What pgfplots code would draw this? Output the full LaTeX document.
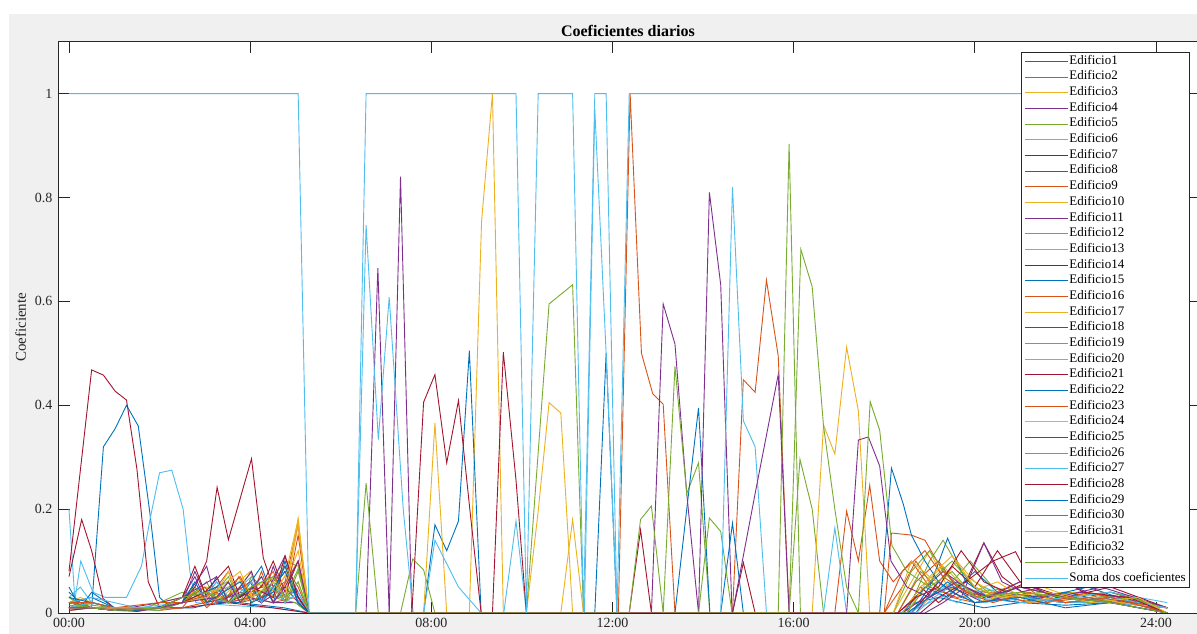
\documentclass[border=0pt]{standalone}
\usepackage{fontspec}
\setmainfont{Liberation Serif}
\usepackage{pgfplots}
\pgfplotsset{compat=1.18}
\definecolor{ca}{HTML}{0072BD}
\definecolor{cb}{HTML}{D95319}
\definecolor{cc}{HTML}{EDB120}
\definecolor{cd}{HTML}{7E2F8E}
\definecolor{ce}{HTML}{77AC30}
\definecolor{cf}{HTML}{4DBEEE}
\definecolor{cg}{HTML}{A2142F}
\definecolor{figbg}{HTML}{F0F0F0}
\definecolor{axc}{HTML}{262626}
\begin{document}
\begin{tikzpicture}[x=1pt,y=1pt]
\useasboundingbox (0,0) rectangle (1197,634);
\fill[white] (0,0) rectangle (1197,634);
\fill[figbg] (9,0) rectangle (1197,620);
\begin{axis}[
  at={(58.8pt,21pt)}, anchor=south west,
  scale only axis, width=1138.2pt, height=571.3pt,
  xmin=-0.225, xmax=24.906, ymin=0, ymax=1.1,
  axis background/.style={fill=white},
  axis line style={axc, line width=0.6pt},
  every tick/.style={axc, line width=0.6pt},
  major tick length=11pt,
  xtick={0,4,8,12,16,20,24},
  xticklabels={00:00,04:00,08:00,12:00,16:00,20:00,24:00},
  ytick={0,0.2,0.4,0.6,0.8,1},
  yticklabels={0,0.2,0.4,0.6,0.8,1},
  tick label style={font=\fontsize{14}{16}\selectfont, text=axc},
  xticklabel style={yshift=-2pt},
  yticklabel style={xshift=-3pt},
  title={\textbf{Coeficientes diarios}},
  title style={font=\fontsize{16}{18}\selectfont, yshift=-4pt},
  ylabel={Coeficiente},
  ylabel style={font=\fontsize{15}{17}\selectfont, text=axc, at={(axis description cs:-0.0334,0.5)}, anchor=center},
  every axis plot/.append style={line width=0.9pt, mark=none},
  legend style={at={(0.99385,0.98197)}, anchor=north east, draw=axc, line width=0.6pt, fill=white,
    font=\fontsize{13}{14}\selectfont, row sep=0.67pt, inner xsep=3pt, inner ysep=1.5pt,
    nodes={inner sep=1pt, text height=9.5pt, text depth=3.5pt}},
  legend cell align=left,
  legend image code/.code={\draw[#1] (-3pt,0pt) -- (40pt,0pt);},
]
% Edificio1
\addplot[ca] coordinates {(0,0.04)(0.25,0.02)(0.5,0.01)(0.76,0.32)(1.02,0.355)(1.27,0.4)(1.53,0.36)(1.79,0.19)(2.0,0.03)(2.25,0.01)(2.75,0.01)(3.25,0.02)(3.75,0.02)(4.25,0.015)(4.75,0.01)(5.3,0)(18.4,0)(18.7,0.02)(19.2,0.03)(19.7,0.02)(20.2,0.01)(21,0.02)(22,0.015)(23,0.02)(24.25,0.01)};
% Edificio2
\addplot[cb] coordinates {(0,0.03)(0.25,0.02)(0.5,0.01)(1,0.005)(1.5,0.003)(2,0.01)(2.5,0.02)(2.75,0.04)(3.0,0.02)(3.5,0.03)(3.75,0.07)(4.0,0.03)(4.5,0.02)(5.0,0.03)(5.3,0)(12.13,0)(12.39,1.0)(12.64,0.5)(12.89,0.422)(13.12,0.402)(13.38,0)(18.0,0)(18.4,0.05)(18.7,0.1)(19.0,0.06)(19.5,0.03)(20,0.02)(21,0.03)(22,0.02)(23,0.03)(24.25,0.01)};
% Edificio3
\addplot[cc] coordinates {(0,0.02)(0.25,0.03)(0.5,0.02)(1,0.01)(1.5,0.005)(2,0.02)(2.5,0.03)(3,0.05)(3.25,0.02)(3.5,0.04)(4.0,0.08)(4.25,0.03)(4.75,0.05)(5.06,0.12)(5.3,0)(8.84,0)(9.11,0.754)(9.35,1.0)(9.59,0)(18.2,0)(18.6,0.06)(19,0.12)(19.4,0.05)(20,0.03)(20.5,0.04)(21.5,0.02)(22.5,0.03)(23.5,0.02)(24.25,0)};
% Edificio4
\addplot[cd] coordinates {(0,0.01)(0.5,0.02)(1,0.01)(1.5,0.003)(2,0.01)(2.5,0.02)(2.78,0.08)(3.04,0.03)(3.5,0.02)(4,0.03)(4.5,0.02)(5,0.02)(5.3,0)(6.56,0)(6.82,0.664)(7.07,0)(18.3,0)(18.8,0.04)(19.3,0.08)(19.8,0.05)(20.3,0.03)(21,0.05)(22,0.03)(23,0.04)(24.25,0.01)};
% Edificio5
\addplot[ce] coordinates {(0,0.03)(0.25,0.015)(0.5,0.01)(1,0.005)(1.5,0.005)(2,0.02)(2.5,0.04)(3.0,0.03)(3.26,0.06)(3.5,0.03)(4.25,0.04)(4.77,0.1)(5.06,0.09)(5.3,0)(6.33,0)(6.56,0.25)(6.83,0)(7.32,0)(7.59,0.104)(7.83,0.083)(8.08,0)(15.9,0)(16.14,0.296)(16.41,0.2)(16.66,0)(18.5,0)(19,0.1)(19.3,0.14)(19.7,0.08)(20.3,0.04)(21,0.03)(22,0.04)(23,0.03)(24.25,0.01)};
% Edificio6
\addplot[cf] coordinates {(0,0.2)(0.13,0.025)(0.26,0.1)(0.53,0.04)(0.8,0.03)(1.27,0.03)(1.6,0.09)(1.8,0.185)(2.0,0.27)(2.27,0.275)(2.52,0.2)(2.67,0.08)(2.8,0.02)(3.5,0.015)(4.5,0.01)(5.3,0)(18.5,0)(19,0.03)(19.5,0.06)(20,0.03)(21,0.02)(22,0.03)(23,0.02)(24.25,0.01)};
% Edificio7
\addplot[cg] coordinates {(0,0.08)(0.5,0.468)(0.76,0.458)(1.02,0.427)(1.27,0.41)(1.5,0.277)(1.75,0.06)(2.0,0.01)(2.5,0.01)(3,0.015)(3.5,0.02)(4,0.015)(4.5,0.01)(5.3,0)(18.4,0)(18.8,0.05)(19.2,0.02)(19.8,0.06)(20.2,0.135)(20.6,0.07)(21.2,0.03)(22,0.02)(23,0.03)(24.25,0.01)};
% Edificio8
\addplot[ca] coordinates {(0,0.02)(0.5,0.03)(1,0.01)(2,0.01)(2.5,0.02)(3.0,0.04)(3.5,0.06)(3.78,0.03)(4.25,0.09)(4.5,0.03)(5,0.04)(5.3,0)(7.83,0)(8.08,0.17)(8.34,0.12)(8.6,0.177)(8.84,0.505)(9.1,0)(18.6,0)(19,0.05)(19.4,0.144)(19.8,0.06)(20.3,0.03)(21,0.02)(22,0.04)(23,0.02)(24.25,0)};
% Edificio9
\addplot[cb] coordinates {(0,0.02)(0.5,0.01)(1,0.01)(2,0.005)(2.5,0.01)(3.0,0.02)(3.52,0.08)(3.78,0.02)(4.25,0.03)(4.77,0.06)(5.06,0.17)(5.3,0)(14.65,0)(14.89,0.449)(15.15,0.425)(15.4,0.641)(15.66,0.495)(15.9,0)(18.0,0)(18.16,0.154)(18.6,0.15)(18.9,0.14)(19.3,0.08)(19.8,0.04)(20.5,0.03)(21.5,0.02)(22.5,0.03)(24.25,0.01)};
% Edificio10
\addplot[cc] coordinates {(0,0.01)(0.5,0.02)(1,0.01)(2,0.01)(2.5,0.03)(3.04,0.05)(3.5,0.02)(4.03,0.08)(4.25,0.02)(4.77,0.07)(5.06,0.18)(5.3,0)(7.83,0)(8.08,0.366)(8.34,0)(10.1,0)(10.36,0.196)(10.6,0.405)(10.86,0.385)(11.12,0)(18.7,0)(19.2,0.05)(19.6,0.1)(20,0.06)(20.6,0.03)(21.5,0.05)(22.5,0.02)(23.5,0.03)(24.25,0)};
% Edificio11
\addplot[cd] coordinates {(0,0.005)(0.5,0.01)(1,0.005)(2,0.01)(2.5,0.02)(3.04,0.09)(3.26,0.02)(3.78,0.04)(4.25,0.02)(4.51,0.09)(4.77,0.03)(5,0.05)(5.3,0)(7.07,0)(7.32,0.84)(7.57,0)(18.4,0)(18.9,0.03)(19.5,0.05)(20.2,0.02)(21,0.04)(22,0.06)(22.7,0.03)(23.5,0.02)(24.25,0)};
% Edificio12
\addplot[ce] coordinates {(0,0.02)(0.5,0.015)(1,0.01)(2,0.01)(2.5,0.03)(2.78,0.05)(3.04,0.02)(3.52,0.06)(3.78,0.02)(4.03,0.07)(4.5,0.03)(5,0.02)(5.3,0)(10.1,0)(10.6,0.595)(11.12,0.632)(11.36,0)(18.3,0)(18.8,0.08)(19.3,0.04)(19.9,0.1)(20.4,0.05)(21.2,0.03)(22.2,0.04)(23.2,0.03)(24.25,0.01)};
% Edificio13
\addplot[cf] coordinates {(0,0.03)(0.25,0.05)(0.5,0.02)(1,0.01)(2,0.005)(2.5,0.02)(3.0,0.03)(3.26,0.06)(3.52,0.03)(4.03,0.07)(4.25,0.03)(4.77,0.09)(5.06,0.03)(5.3,0)(6.33,0)(6.56,0.747)(6.83,0.334)(7.07,0.608)(7.38,0.2)(7.6,0)(18.5,0)(19,0.02)(19.5,0.04)(20,0.02)(21,0.03)(22,0.02)(23,0.02)(24.25,0)};
% Edificio14
\addplot[cg] coordinates {(0,0.07)(0.28,0.18)(0.5,0.12)(0.75,0.028)(1,0.01)(1.5,0.005)(2,0.01)(2.5,0.02)(2.78,0.05)(3.04,0.1)(3.27,0.242)(3.52,0.141)(4.03,0.297)(4.29,0.106)(4.51,0.05)(4.77,0.08)(5.06,0.03)(5.3,0)(12.37,0)(12.62,0.16)(12.86,0)(14.65,0)(14.89,0.097)(15.15,0)(18.6,0)(19.0,0.04)(19.5,0.09)(20,0.05)(20.5,0.12)(21,0.06)(21.8,0.03)(23,0.04)(24.25,0.01)};
% Edificio15
\addplot[ca] coordinates {(0,0.05)(0.25,0.01)(0.5,0.04)(1,0.01)(1.5,0.005)(2.5,0.02)(3.0,0.03)(3.26,0.07)(3.52,0.02)(4.25,0.06)(4.51,0.02)(4.77,0.1)(5.06,0.02)(5.3,0)(11.61,0)(11.86,0.5)(12.1,0)(14.39,0)(14.65,0.173)(14.89,0)(18.4,0)(18.9,0.05)(19.4,0.03)(20,0.08)(20.5,0.04)(21.5,0.03)(22.5,0.05)(23.5,0.02)(24.25,0)};
% Edificio16
\addplot[cb] coordinates {(0,0.01)(0.5,0.02)(1,0.01)(2,0.01)(2.5,0.01)(2.78,0.04)(3.04,0.01)(3.78,0.07)(4.03,0.03)(4.51,0.08)(4.77,0.02)(5.06,0.15)(5.3,0)(16.91,0)(17.17,0.196)(17.43,0.1)(17.68,0.246)(17.9,0.1)(18.2,0.06)(18.6,0.1)(19,0.05)(19.6,0.03)(20.3,0.04)(21.2,0.02)(22.2,0.03)(23.2,0.02)(24.25,0.01)};
% Edificio17
\addplot[cc] coordinates {(0,0.005)(0.5,0.01)(1,0.005)(2,0.01)(2.5,0.02)(3.26,0.04)(3.52,0.08)(3.78,0.02)(4.25,0.05)(4.51,0.07)(4.77,0.03)(5.06,0.06)(5.3,0)(10.86,0)(11.12,0.18)(11.36,0)(16.41,0)(16.66,0.362)(16.91,0.306)(17.17,0.512)(17.43,0.389)(17.68,0)(18.5,0)(19,0.07)(19.5,0.04)(20,0.02)(21,0.04)(22,0.03)(23,0.02)(24.25,0)};
% Edificio18
\addplot[cd] coordinates {(0,0.02)(0.5,0.01)(1,0.005)(2,0.02)(2.5,0.03)(2.78,0.07)(3.04,0.02)(3.5,0.03)(4,0.06)(4.25,0.02)(4.77,0.05)(5.06,0.02)(5.3,0)(12.86,0)(13.12,0.595)(13.38,0.518)(13.64,0.23)(13.9,0)(18.7,0)(19.2,0.06)(19.7,0.03)(20.2,0.135)(20.6,0.06)(21.3,0.03)(22.3,0.04)(23.3,0.03)(24.25,0)};
% Edificio19
\addplot[ce] coordinates {(0,0.01)(0.5,0.02)(1,0.01)(2,0.005)(2.5,0.02)(3.04,0.06)(3.26,0.02)(3.78,0.05)(4.03,0.02)(4.51,0.06)(4.77,0.02)(5.06,0.08)(5.3,0)(13.12,0)(13.38,0.475)(13.64,0.23)(13.9,0.289)(14.15,0)(18.2,0)(18.6,0.08)(19,0.12)(19.5,0.06)(20,0.04)(21,0.05)(22,0.03)(23,0.04)(24.25,0.01)};
% Edificio20
\addplot[cf] coordinates {(0,0.02)(0.5,0.03)(1,0.02)(1.5,0.01)(2.5,0.02)(3.0,0.03)(3.52,0.05)(4.03,0.04)(4.25,0.07)(4.51,0.03)(5,0.03)(5.3,0)(11.38,0)(11.61,0.97)(11.86,0.5)(12.1,0)(16.66,0)(16.91,0.164)(17.17,0)(18.6,0)(19.1,0.04)(19.6,0.02)(20.2,0.05)(21,0.02)(22,0.03)(23,0.04)(24.25,0.02)};
% Edificio21
\addplot[cg] coordinates {(0,0.01)(0.5,0.01)(1,0.005)(2,0.01)(2.5,0.03)(2.78,0.09)(3.04,0.03)(3.5,0.02)(4.25,0.05)(4.51,0.1)(4.77,0.04)(5.06,0.1)(5.3,0)(7.57,0)(7.83,0.406)(8.08,0.459)(8.34,0.289)(8.6,0.409)(8.85,0.2)(9.1,0)(18.8,0)(19.2,0.03)(19.8,0.06)(20.4,0.1)(20.9,0.118)(21.3,0.05)(22,0.03)(23,0.05)(24.25,0.01)};
% Edificio22
\addplot[ca] coordinates {(0,0.03)(0.5,0.02)(1,0.01)(2,0.01)(2.5,0.02)(3.26,0.05)(3.52,0.02)(4.03,0.05)(4.25,0.02)(4.77,0.08)(5.06,0.02)(5.3,0)(13.38,0)(13.64,0.2)(13.9,0.395)(14.15,0)(18.5,0)(19,0.03)(19.4,0.06)(20,0.02)(21,0.03)(22,0.02)(23,0.03)(24.25,0)};
% Edificio23
\addplot[cb] coordinates {(0,0.02)(0.5,0.01)(1,0.01)(2,0.02)(2.5,0.02)(3.0,0.05)(3.26,0.02)(4.03,0.06)(4.25,0.03)(4.77,0.09)(5.06,0.05)(5.3,0)(18.3,0)(18.7,0.06)(19.2,0.1)(19.6,0.05)(20.2,0.03)(21,0.06)(21.6,0.02)(22.5,0.04)(23.5,0.02)(24.25,0)};
% Edificio24
\addplot[cc] coordinates {(0,0.01)(0.5,0.01)(1,0.005)(2,0.01)(2.5,0.02)(3.04,0.04)(3.52,0.05)(3.78,0.02)(4.25,0.06)(4.51,0.03)(4.88,0.09)(5.06,0.182)(5.28,0)(18.4,0)(18.8,0.05)(19.3,0.09)(19.9,0.04)(20.5,0.06)(21.2,0.02)(22.2,0.04)(23.2,0.02)(24.25,0.01)};
% Edificio25
\addplot[cd] coordinates {(0,0.02)(0.5,0.01)(1,0.01)(2,0.01)(2.5,0.03)(3.26,0.07)(3.52,0.02)(4.03,0.08)(4.25,0.02)(4.77,0.11)(5.06,0.03)(5.3,0)(13.9,0)(14.14,0.81)(14.39,0.632)(14.64,0)(18.9,0)(19.3,0.02)(19.8,0.05)(20.3,0.03)(21.0,0.06)(21.8,0.03)(22.8,0.05)(24.25,0.01)};
% Edificio26
\addplot[ce] coordinates {(0,0.015)(0.5,0.01)(1,0.005)(2,0.01)(2.5,0.02)(2.78,0.04)(3.04,0.02)(3.52,0.07)(3.78,0.02)(4.51,0.05)(4.77,0.02)(5.06,0.06)(5.3,0)(13.9,0)(14.14,0.183)(14.39,0.157)(14.64,0)(15.66,0)(15.9,0.903)(16.15,0)(18.5,0)(19,0.06)(19.5,0.1)(20,0.05)(20.5,0.03)(21.5,0.04)(22.5,0.02)(23.5,0.03)(24.25,0)};
% Edificio27
\addplot[cf] coordinates {(0,0.01)(0.5,0.02)(1,0.01)(2,0.01)(2.5,0.02)(3.04,0.03)(3.52,0.02)(4.03,0.06)(4.25,0.02)(4.51,0.06)(4.77,0.02)(5.06,0.04)(5.3,0)(7.83,0)(8.08,0.14)(8.6,0.05)(9.1,0)(9.6,0)(9.87,0.177)(10.1,0)(14.39,0)(14.65,0.82)(14.89,0.37)(15.15,0.32)(15.4,0)(18.7,0)(19.1,0.03)(19.6,0.06)(20.2,0.02)(21,0.03)(22,0.02)(23,0.03)(24.25,0.01)};
% Edificio28
\addplot[cg] coordinates {(0,0.005)(0.5,0.01)(1,0.005)(2,0.01)(2.5,0.02)(3.0,0.04)(3.52,0.09)(3.78,0.03)(4.03,0.05)(4.51,0.03)(4.77,0.11)(5.06,0.03)(5.3,0)(9.35,0)(9.59,0.502)(9.87,0.256)(10.1,0)(18.3,0)(18.7,0.03)(19.2,0.05)(19.7,0.12)(20.2,0.06)(20.7,0.04)(21.6,0.08)(22.4,0.04)(23.4,0.03)(24.25,0)};
% Edificio29
\addplot[ca] coordinates {(0,0.01)(0.5,0.01)(1,0.005)(2,0.01)(2.5,0.02)(2.78,0.06)(3.04,0.02)(3.78,0.06)(4.03,0.02)(4.51,0.04)(4.77,0.09)(5.06,0.02)(5.3,0)(17.9,0)(18.16,0.279)(18.42,0.21)(18.6,0.15)(18.9,0.1)(19.2,0.06)(19.5,0.04)(20,0.02)(21,0.03)(22,0.01)(23,0.02)(24.25,0)};
% Edificio30
\addplot[cb] coordinates {(0,0.02)(0.5,0.02)(1,0.01)(2,0.01)(2.5,0.02)(3.26,0.04)(3.52,0.02)(4.03,0.03)(4.25,0.08)(4.51,0.02)(5.06,0.1)(5.3,0)(18.0,0)(18.4,0.08)(18.9,0.12)(19.3,0.07)(19.8,0.04)(20.4,0.02)(21.2,0.04)(22,0.02)(23,0.03)(24.25,0)};
% Edificio31
\addplot[cc] coordinates {(0,0.01)(0.5,0.01)(1,0.01)(2,0.01)(2.5,0.02)(3.04,0.03)(3.78,0.08)(4.03,0.03)(4.51,0.06)(4.77,0.03)(5.06,0.17)(5.3,0)(18.2,0)(18.6,0.1)(19.0,0.07)(19.5,0.11)(20,0.05)(20.6,0.03)(21.6,0.04)(22.6,0.02)(23.6,0.03)(24.25,0)};
% Edificio32
\addplot[cd] coordinates {(0,0.01)(0.5,0.01)(1,0.005)(2,0.01)(2.5,0.02)(3.26,0.03)(3.52,0.06)(3.78,0.02)(4.25,0.07)(4.51,0.02)(4.77,0.05)(5.06,0.1)(5.3,0)(14.65,0)(15.15,0.23)(15.66,0.459)(15.9,0)(17.17,0)(17.43,0.333)(17.65,0.339)(17.9,0.283)(18.15,0.1)(18.5,0.05)(19,0.03)(19.6,0.06)(20.2,0.03)(21,0.05)(22,0.03)(23,0.02)(24.25,0)};
% Edificio33
\addplot[ce] coordinates {(0,0.02)(0.5,0.01)(1,0.005)(2,0.01)(2.5,0.03)(3.04,0.04)(3.52,0.02)(4.03,0.05)(4.51,0.07)(4.77,0.03)(5.06,0.085)(5.3,0)(12.37,0)(12.62,0.18)(12.86,0.206)(13.12,0)(15.9,0)(16.16,0.7)(16.41,0.628)(16.66,0.36)(16.91,0.2)(17.17,0.05)(17.43,0)(17.69,0.407)(17.9,0.352)(18.17,0.13)(18.5,0.08)(19,0.05)(19.5,0.08)(20,0.03)(21,0.04)(22,0.03)(23,0.02)(24.25,0)};
% Soma dos coeficientes
\addplot[cf] coordinates {(0,1)(5.06,1)(5.3,0)(6.33,0)(6.56,1)(9.87,1)(10.1,0)(10.36,1)(11.12,1)(11.36,0)(11.61,1)(11.86,1)(12.1,0)(12.37,1)(24.25,1)};
\legend{Edificio1,Edificio2,Edificio3,Edificio4,Edificio5,Edificio6,Edificio7,Edificio8,Edificio9,Edificio10,Edificio11,Edificio12,Edificio13,Edificio14,Edificio15,Edificio16,Edificio17,Edificio18,Edificio19,Edificio20,Edificio21,Edificio22,Edificio23,Edificio24,Edificio25,Edificio26,Edificio27,Edificio28,Edificio29,Edificio30,Edificio31,Edificio32,Edificio33,Soma dos coeficientes}
\end{axis}
\end{tikzpicture}
\end{document}
